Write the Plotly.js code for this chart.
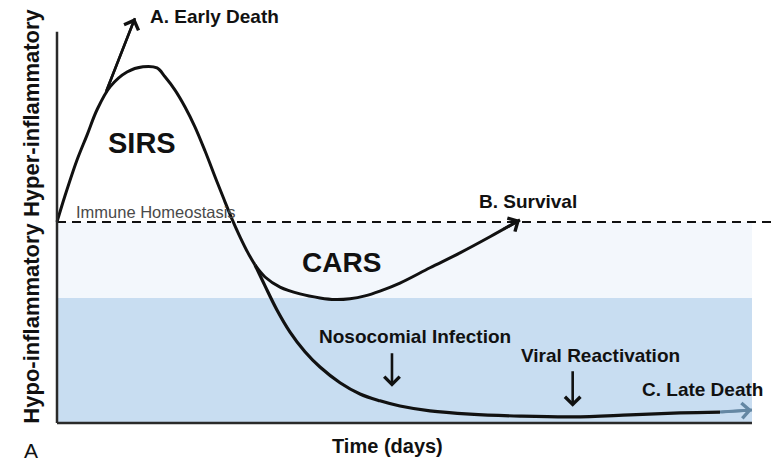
<!DOCTYPE html>
<html><head><meta charset="utf-8">
<script src="https://cdn.plot.ly/plotly-3.0.1.min.js"></script>
<style>html,body{margin:0;padding:0;background:#fff}#chart{width:777px;height:461px}</style>
</head><body><div id="chart"></div>
<script>
// ---- data (time in arbitrary units, 0 = onset; level: 0 = immune homeostasis) ----
const sirsTime  = [0, 1.15, 2.88, 4.32, 5.76, 7.63, 10.07, 12.37, 14.39, 15.54, 16.98, 18.42, 19.86, 21.29, 23.02, 24.17, 25.18, 26.33, 27.48, 28.49];
const sirsLevel = [0, 0.65, 1.54, 2.16, 2.79, 3.36, 3.73, 3.86, 3.83, 3.61, 3.28, 2.86, 2.36, 1.77, 1.00, 0.50, 0.07, -0.37, -0.77, -1.07];

const survivalTime  = [28.49, 29.93, 32.09, 34.96, 37.84, 40.00, 42.16, 44.32, 46.47, 49.35, 53.67, 57.99, 62.30, 66.62];
const survivalLevel = [-1.07, -1.37, -1.62, -1.79, -1.89, -1.93, -1.91, -1.84, -1.72, -1.52, -1.14, -0.77, -0.37, 0.05];

const lateTime  = [28.49, 29.93, 31.65, 33.53, 35.68, 37.84, 40.72, 43.60, 46.47, 49.35, 53.67, 59.42, 66.62, 74.24, 82.45, 89.64, 95.40];
const lateLevel = [-1.07, -1.59, -2.19, -2.74, -3.23, -3.61, -4.00, -4.28, -4.45, -4.58, -4.70, -4.78, -4.83, -4.85, -4.80, -4.75, -4.73];

const lateTailTime  = [95.40, 100];
const lateTailLevel = [-4.73, -4.68];

const earlyTime  = [7.05, 11.22];
const earlyLevel = [3.23, 5.07];

const homeoTime  = [0, 103.6];
const homeoLevel = [0, 0];

// event markers (down arrows): [time, from level, to level]
const infectionArrow = {time: 48.2, from: -3.23, to: -4.10};
const viralArrow     = {time: 74.2, from: -3.68, to: -4.60};

// shaded zones
const carsBandTop = 0, carsBandBottom = -1.89, floorLevel = -5, axisTop = 4.73, timeEnd = 100;

// ---- styling ----
const FONT = 'Liberation Sans, Arial, Helvetica, sans-serif';
const BLACK = '#111111';

const line = (x, y, color, width, shape, dash) => ({
  type: 'scatter', mode: 'lines', x, y, hoverinfo: 'skip',
  line: {color, width, shape: shape || 'linear', smoothing: 1, dash: dash || 'solid'}
});

const traces = [
  line(homeoTime, homeoLevel, BLACK, 2, 'linear', '9px,6px'),
  line(sirsTime, sirsLevel, BLACK, 3, 'spline'),
  line(survivalTime, survivalLevel, BLACK, 3, 'spline'),
  line(lateTime, lateLevel, BLACK, 3.2, 'spline'),
  line(lateTailTime, lateTailLevel, '#6487a3', 3, 'linear'),
  line(earlyTime, earlyLevel, BLACK, 2.5, 'linear')
];

function headFrom(xs, ys, color, frac) {
  const n = xs.length;
  const tx = xs[n-1], ty = ys[n-1];
  const px = xs[n-2], py = ys[n-2];
  return {
    x: tx, y: ty, ax: tx - (tx - px) * frac, ay: ty - (ty - py) * frac,
    xref: 'x', yref: 'y', axref: 'x', ayref: 'y', text: '', showarrow: true,
    arrowhead: 4, arrowsize: 1.15, arrowwidth: 2.6, arrowcolor: color
  };
}
function downArrow(a) {
  return {x: a.time, y: a.to, ax: a.time, ay: a.from, xref: 'x', yref: 'y', axref: 'x', ayref: 'y',
    text: '', showarrow: true, arrowhead: 4, arrowsize: 1.15, arrowwidth: 2.6, arrowcolor: BLACK};
}
function label(text, x, y, size, opts) {
  return Object.assign({x, y, xref: 'x', yref: 'y', text, showarrow: false,
    xanchor: 'center', yanchor: 'middle',
    font: {family: FONT, size, color: BLACK}}, opts || {});
}

const annotations = [
  headFrom(earlyTime, earlyLevel, BLACK, 1),
  headFrom(survivalTime, survivalLevel, BLACK, 0.6),
  headFrom(lateTailTime, lateTailLevel, '#6487a3', 1),
  downArrow(infectionArrow),
  downArrow(viralArrow),
  label('<b>A. Early Death</b>', 22.73, 5.10, 19),
  label('<b>SIRS</b>', 12.23, 1.97, 29),
  label('Immune Homeostasis', 14.24, 0.25, 16, {font: {family: FONT, size: 16.5, color: '#4a4a4a'}}),
  label('<b>B. Survival</b>', 67.77, 0.50, 19),
  label('<b>CARS</b>', 41.0, -1.0, 28),
  label('<b>Nosocomial Infection</b>', 51.5, -2.86, 19),
  label('<b>Viral Reactivation</b>', 78.27, -3.31, 19),
  label('<b>C. Late Death</b>', 92.95, -4.18, 19),
  {text: '<b>Time (days)</b>', x: 47.5, xref: 'x', y: -0.025, yref: 'paper', showarrow: false,
   xanchor: 'center', yanchor: 'middle', font: {family: FONT, size: 20, color: BLACK}},
  {text: '<b>Hypo-inflammatory Hyper-inflammatory</b>', x: -0.029, xref: 'paper', y: 0.502, yref: 'paper',
   textangle: -90, showarrow: false, xanchor: 'center', yanchor: 'middle',
   font: {family: FONT, size: 22, color: BLACK}},
  {text: 'A', x: -0.030, xref: 'paper', y: -0.0345, yref: 'paper', showarrow: false,
   xanchor: 'center', yanchor: 'middle', font: {family: FONT, size: 21, color: BLACK}}
];

const shapes = [
  {type: 'rect', xref: 'x', yref: 'y', x0: 0, x1: timeEnd, y0: carsBandBottom, y1: carsBandTop,
   fillcolor: '#f3f7fc', line: {width: 0}, layer: 'below'},
  {type: 'rect', xref: 'x', yref: 'y', x0: 0, x1: timeEnd, y0: floorLevel, y1: carsBandBottom,
   fillcolor: '#c8ddf1', line: {width: 0}, layer: 'below'},
  {type: 'line', xref: 'x', yref: 'y', x0: 0, x1: 0, y0: floorLevel, y1: axisTop,
   line: {color: '#2a2a2a', width: 2.5}},
  {type: 'line', xref: 'x', yref: 'y', x0: 0, x1: timeEnd, y0: floorLevel, y1: floorLevel,
   line: {color: '#2a2a2a', width: 2.5}}
];

const axisCommon = {showgrid: false, zeroline: false, showticklabels: false, ticks: '', showline: false, fixedrange: true};

const layout = {
  width: 777, height: 461,
  margin: {l: 53, r: 0, t: 0, b: 26},
  paper_bgcolor: '#ffffff', plot_bgcolor: '#ffffff',
  showlegend: false,
  xaxis: Object.assign({range: [-0.576, 103.6]}, axisCommon),
  yaxis: Object.assign({range: [-5.3, 5.52]}, axisCommon),
  shapes, annotations,
  font: {family: FONT}
};

Plotly.newPlot('chart', traces, layout, {staticPlot: true, displayModeBar: false});
</script></body></html>
